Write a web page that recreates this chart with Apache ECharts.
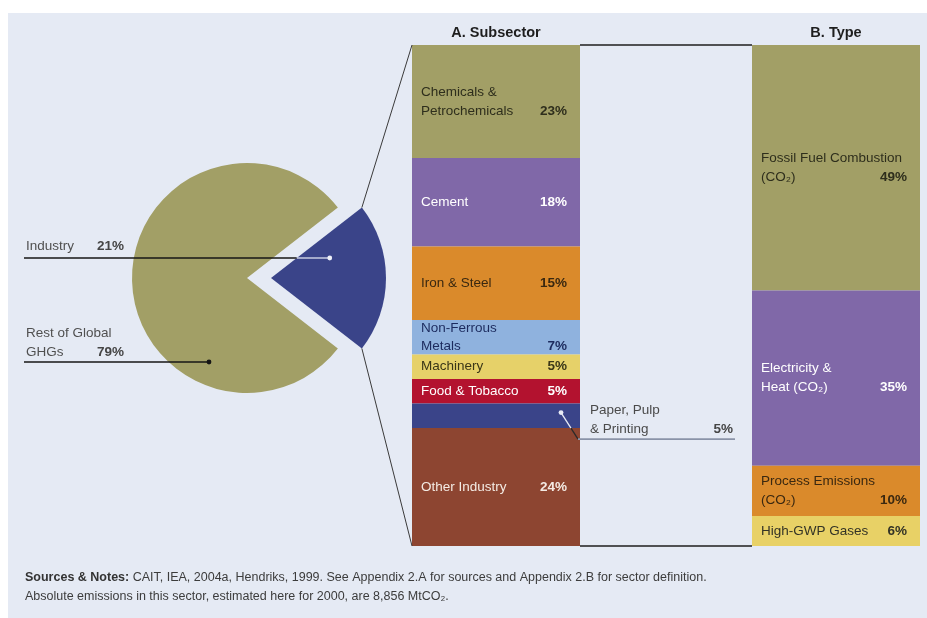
<!DOCTYPE html>
<html>
<head>
<meta charset="utf-8">
<script src="https://cdn.jsdelivr.net/npm/echarts@6/dist/echarts.min.js"></script>
<style>
  html, body { margin: 0; padding: 0; background: #ffffff; }
  #panel { position: absolute; left: 8px; top: 13px; right: 0; bottom: 0; background: #e5eaf4; }
  #chart { position: absolute; left: 0; top: 0; width: 927px; height: 618px; }
</style>
</head>
<body>
<div id="panel"></div>
<div id="chart"></div>
<script>
// Share of global GHG emissions
const pieNames = ['Industry', 'Rest of Global\nGHGs'];
const pieValues = [21, 79];
const pieColors = ['#3a4489', '#a29f66'];

// A. Subsector breakdown of industry emissions (%)
const subsectorNames = ['Chemicals &\nPetrochemicals', 'Cement', 'Iron & Steel', 'Non-Ferrous\nMetals',
  'Machinery', 'Food & Tobacco', 'Paper, Pulp\n& Printing', 'Other Industry'];
const subsectorValues = [23, 18, 15, 7, 5, 5, 5, 24];
const subsectorColors = ['#a29f66', '#8068a8', '#da8a2b', '#8fb2de', '#e6d169', '#b3122f', '#3a4489', '#8d4531'];
const subsectorTextColors = ['#2e2e1c', '#ffffff', '#3a2810', '#1c2b5e', '#3a3618', '#ffffff', '#3a3f5a', '#f4ebe4'];

// B. Emission type breakdown (%)
const typeNames = ['Fossil Fuel Combustion\n(CO₂)', 'Electricity &\nHeat (CO₂)', 'Process Emissions\n(CO₂)', 'High-GWP Gases'];
const typeValues = [49, 35, 10, 6];
const typeColors = ['#a29f66', '#8068a8', '#da8a2b', '#e8d166'];
const typeTextColors = ['#2e2e1c', '#ffffff', '#3a2810', '#333326'];

// Segment drawn with an outside callout instead of an inner label
const calloutIndex = 6;

const FONT = "'Liberation Sans', Arial, sans-serif";
const GA = { left: 412, top: 45, width: 168, height: 501 };
const GB = { left: 752, top: 45, width: 168, height: 501 };
const PIE = { cx: 247, cy: 278, r: 115, offset: 24 };

const sum = a => a.reduce((s, v) => s + v, 0);
const sumA = sum(subsectorValues);
const sumB = sum(typeValues);
const pieTotal = sum(pieValues);

function segLabel(name, value, color) {
  const lines = name.split('\n');
  const last = lines.pop();
  const parts = lines.map(l => '{m|' + l + '}');
  parts.push('{n|' + last + '}{p|' + value + '%}');
  const lh = value < 10 ? 17.5 : 19;
  const base = { color: color, fontFamily: FONT, fontSize: 13.5, lineHeight: lh };
  return {
    show: true,
    position: 'insideLeft',
    distance: 9,
    formatter: parts.join('\n'),
    rich: {
      m: Object.assign({}, base),
      n: Object.assign({}, base, { width: 114 }),
      p: Object.assign({}, base, { width: 32, align: 'right', fontWeight: 'bold' })
    }
  };
}

function barSeries(names, values, colors, textColors, axis, stack, skip) {
  return values.map((v, i) => ({
    type: 'bar',
    name: names[i].replace('\n', ' '),
    xAxisIndex: axis,
    yAxisIndex: axis,
    stack: stack,
    barWidth: '100%',
    silent: true,
    data: [v],
    itemStyle: { color: colors[i] },
    label: i === skip ? { show: false } : segLabel(names[i], v, textColors[i])
  }));
}

const chart = echarts.init(document.getElementById('chart'), null, { renderer: 'canvas' });

const option = {
  backgroundColor: 'transparent',
  animation: false,
  grid: [
    { left: GA.left, top: GA.top, width: GA.width, height: GA.height },
    { left: GB.left, top: GB.top, width: GB.width, height: GB.height }
  ],
  xAxis: [
    { type: 'category', gridIndex: 0, data: ['A'], show: false },
    { type: 'category', gridIndex: 1, data: ['B'], show: false }
  ],
  yAxis: [
    { type: 'value', gridIndex: 0, min: 0, max: sumA, inverse: true, show: false },
    { type: 'value', gridIndex: 1, min: 0, max: sumB, inverse: true, show: false }
  ],
  series: [
    {
      type: 'pie',
      center: [PIE.cx, PIE.cy],
      radius: PIE.r,
      startAngle: 180 * pieValues[0] / pieTotal,
      clockwise: true,
      selectedMode: 'single',
      selectedOffset: PIE.offset,
      silent: true,
      emphasis: { disabled: true },
      label: { show: false },
      labelLine: { show: false },
      data: pieValues.map((v, i) => ({
        name: pieNames[i].replace('\n', ' '),
        value: v,
        selected: i === 0,
        itemStyle: { color: pieColors[i] }
      }))
    }
  ].concat(
    barSeries(subsectorNames, subsectorValues, subsectorColors, subsectorTextColors, 0, 'sub', calloutIndex),
    barSeries(typeNames, typeValues, typeColors, typeTextColors, 1, 'type', -1)
  )
};

chart.setOption(option);

// ---- annotations placed from the pie layout and the bar axes ----
function pieLayout(i) {
  try {
    const l = chart.getModel().getSeriesByIndex(0).getData().getItemLayout(i);
    if (l && isFinite(l.startAngle)) return l;
  } catch (e) { /* fall through */ }
  const start = -option.series[0].startAngle * Math.PI / 180;
  let acc = 0;
  for (let k = 0; k < i; k++) acc += pieValues[k];
  const a0 = start + acc / pieTotal * 2 * Math.PI;
  return { cx: PIE.cx, cy: PIE.cy, r: PIE.r, startAngle: a0, endAngle: a0 + pieValues[i] / pieTotal * 2 * Math.PI };
}

const ind = pieLayout(0);
const mid = (ind.startAngle + ind.endAngle) / 2;
const apex = [ind.cx + Math.cos(mid) * PIE.offset, ind.cy + Math.sin(mid) * PIE.offset];
let cA = [apex[0] + ind.r * Math.cos(ind.startAngle), apex[1] + ind.r * Math.sin(ind.startAngle)];
let cB = [apex[0] + ind.r * Math.cos(ind.endAngle), apex[1] + ind.r * Math.sin(ind.endAngle)];
const upperCorner = cA[1] < cB[1] ? cA : cB;
const lowerCorner = cA[1] < cB[1] ? cB : cA;
const upperAngle = cA[1] < cB[1] ? ind.startAngle : ind.endAngle;

const yA = v => chart.convertToPixel({ yAxisIndex: 0 }, v);
const yB = v => chart.convertToPixel({ yAxisIndex: 1 }, v);

const g = [];
const line = (x1, y1, x2, y2, stroke, w) => g.push({
  type: 'line', silent: true, z: 10,
  shape: { x1, y1, x2, y2 }, style: { stroke, lineWidth: w }
});
const dot = (x, y, fill) => g.push({
  type: 'circle', silent: true, z: 11, shape: { cx: x, cy: y, r: 2.4 }, style: { fill }
});
const text = (x, y, str, opts) => g.push({
  type: 'text', silent: true, z: 12,
  style: Object.assign({ x, y, text: str, font: '13.5px ' + FONT, fill: '#4a4a4a',
    textAlign: 'left', textVerticalAlign: 'middle' }, opts || {})
});

// Pie wedge to subsector bar
line(upperCorner[0], upperCorner[1], GA.left, yA(0), '#3a3a3a', 1);
line(lowerCorner[0], lowerCorner[1], GA.left, yA(sumA), '#3a3a3a', 1);
// Subsector bar to type bar
line(GA.left + GA.width, yA(0), GB.left, yB(0), '#1e1e1e', 1.4);
line(GA.left + GA.width, yA(sumA), GB.left, yB(sumB), '#1e1e1e', 1.4);

// Pie labels
const pctRich = {
  n: { width: 71, font: '13.5px ' + FONT, fill: '#505050' },
  p: { font: 'bold 13.5px ' + FONT, fill: '#454545' }
};
// Industry: line from the left margin into the exploded wedge
const indY = 258;
const indDot = [apex[0] + 0.54 * ind.r * Math.cos(-0.33), apex[1] + 0.54 * ind.r * Math.sin(-0.33)];
const edgeX = apex[0] + (indY - apex[1]) / Math.tan(upperAngle);
line(24, indY, edgeX, indY, '#161616', 1.5);
line(edgeX, indY, indDot[0], indY, '#c9cde2', 1.5);
dot(indDot[0], indY, '#eef0f8');
text(26, indY - 12, '{n|' + pieNames[0] + '}{p|' + pieValues[0] + '%}', { rich: pctRich });

// Rest of global GHGs
const restY = 362;
const restL = pieLayout(1);
const restDotX = restL.cx - 38;
line(24, restY, restDotX, restY, '#161616', 1.5);
dot(restDotX, restY, '#161616');
const restLines = pieNames[1].split('\n');
text(26, restY - 29, restLines[0], { fill: '#505050' });
text(26, restY - 10, '{n|' + restLines[1] + '}{p|' + pieValues[1] + '%}', { rich: pctRich });

// Callout for the small subsector segment
let before = 0;
for (let k = 0; k < calloutIndex; k++) before += subsectorValues[k];
const segTop = yA(before), segBot = yA(before + subsectorValues[calloutIndex]);
const cDot = [GA.left + 149, segTop + 9];
const cElbow = [GA.left + GA.width - 2, segBot + 11];
const tCut = (segBot - cDot[1]) / (cElbow[1] - cDot[1]);
const cutX = cDot[0] + (cElbow[0] - cDot[0]) * tCut;
line(cDot[0], cDot[1], cutX, segBot, '#e8ebf5', 1.3);
line(cutX, segBot, cElbow[0], cElbow[1], '#2a2a2a', 1.3);
line(cElbow[0], cElbow[1], 735, cElbow[1], '#8a93a8', 1.8);
dot(cDot[0], cDot[1], '#e8ebf5');
const cLines = subsectorNames[calloutIndex].split('\n');
text(590, cElbow[1] - 29, cLines[0], { fill: '#4a4a4a' });
text(590, cElbow[1] - 10, cLines[1], { fill: '#4a4a4a' });
text(733, cElbow[1] - 10, subsectorValues[calloutIndex] + '%', { textAlign: 'right', font: 'bold 13.5px ' + FONT, fill: '#454545' });

// Panel headings
text(GA.left + GA.width / 2, 33, 'A. Subsector', { textAlign: 'center', font: 'bold 14.5px ' + FONT, fill: '#1e1e1e' });
text(GB.left + GB.width / 2, 33, 'B. Type', { textAlign: 'center', font: 'bold 14.5px ' + FONT, fill: '#1e1e1e' });

// Sources & notes
g.push({
  type: 'text', silent: true, z: 12,
  style: {
    x: 25, y: 578, textVerticalAlign: 'middle',
    text: '{b|Sources & Notes:} CAIT, IEA, 2004a, Hendriks, 1999. See Appendix 2.A for sources and Appendix 2.B for sector definition.',
    font: '12.5px ' + FONT, fill: '#3c3c3c',
    rich: { b: { font: 'bold 12.5px ' + FONT, fill: '#333333' } }
  }
});
text(25, 597, 'Absolute emissions in this sector, estimated here for 2000, are 8,856 MtCO₂.', { font: '12.5px ' + FONT, fill: '#3c3c3c' });

chart.setOption({ graphic: { elements: g } });
</script>
</body>
</html>
